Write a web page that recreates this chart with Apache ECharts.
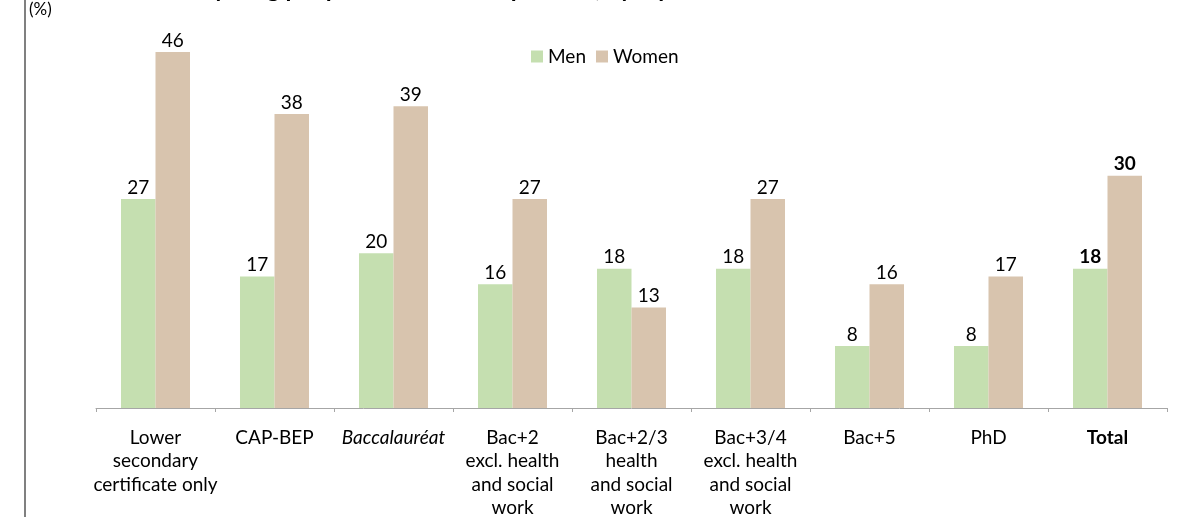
<!DOCTYPE html>
<html>
<head>
<meta charset="utf-8">
<script src="https://cdn.jsdelivr.net/npm/echarts@6/dist/echarts.min.js"></script>
<style>
  html, body { margin: 0; padding: 0; background: #fff; }
  #chart { width: 1181px; height: 517px; }
</style>
</head>
<body>
<div id="chart"></div>
<script>
// Qualification levels shown along the x axis
const categories = [
  'Lower\nsecondary\ncertificate only',
  'CAP-BEP',
  'Baccalauréat',
  'Bac+2\nexcl. health\nand social\nwork',
  'Bac+2/3\nhealth\nand social\nwork',
  'Bac+3/4\nexcl. health\nand social\nwork',
  'Bac+5',
  'PhD',
  'Total'
];
// Percentages by sex
const menValues = [27, 17, 20, 16, 18, 18, 8, 8, 18];
const womenValues = [46, 38, 39, 27, 13, 27, 16, 17, 30];

const titleText = 'Share of young people who are overqualified, by diploma and sex';
const unitText = '(%)';

const FONT = 'Lato, "Open Sans", sans-serif';
const FS = 19;
const MEN_COLOR = '#c5dfb0';
const WOMEN_COLOR = '#d8c4ae';

const chart = echarts.init(document.getElementById('chart'), null, { renderer: 'canvas' });

// Total column gets bold value labels
function valueLabel(idx) {
  return {
    show: true,
    position: 'top',
    distance: 2,
    color: '#000',
    fontFamily: FONT,
    fontSize: FS,
    fontWeight: categories[idx] === 'Total' ? 'bold' : 'normal'
  };
}

function buildData(values) {
  return values.map((v, i) => ({ value: v, label: valueLabel(i) }));
}

chart.setOption({
  animation: false,
  backgroundColor: '#fff',
  textStyle: { fontFamily: FONT },
  grid: { left: 96, right: 14, top: 21, bottom: 109, containLabel: false, outerBoundsMode: 'none' },
  legend: {
    data: ['Men', 'Women'],
    left: 526,
    top: 42,
    itemWidth: 12,
    itemHeight: 12,
    itemGap: 10,
    icon: 'rect',
    textStyle: { fontFamily: FONT, fontSize: FS, color: '#000' }
  },
  xAxis: {
    type: 'category',
    data: categories,
    axisLine: { show: true, lineStyle: { color: '#a6a6a6', width: 1 } },
    axisTick: { show: true, length: 4, inside: false, lineStyle: { color: '#a6a6a6' } },
    axisLabel: {
      interval: 0,
      margin: 18,
      color: '#000',
      fontFamily: FONT,
      fontSize: FS,
      lineHeight: 23.5,
      formatter: function (v) {
        if (v === 'Baccalauréat') return '{it|' + v + '}';
        if (v === 'Total') return '{b|' + v + '}';
        return v;
      },
      rich: {
        it: { fontStyle: 'italic', fontSize: FS, fontFamily: FONT, color: '#000', lineHeight: 23.5 },
        b: { fontWeight: 'bold', fontSize: FS, fontFamily: FONT, color: '#000', lineHeight: 23.5 }
      }
    }
  },
  yAxis: {
    type: 'value',
    min: 0,
    max: 50,
    show: false,
    splitLine: { show: false }
  },
  series: [
    {
      name: 'Men',
      type: 'bar',
      data: buildData(menValues),
      itemStyle: { color: MEN_COLOR },
      barGap: '0%',
      barCategoryGap: '42%'
    },
    {
      name: 'Women',
      type: 'bar',
      data: buildData(womenValues),
      itemStyle: { color: WOMEN_COLOR },
      barGap: '0%',
      barCategoryGap: '42%'
    }
  ],
  graphic: [
    {
      type: 'line',
      shape: { x1: 25, y1: 0, x2: 25, y2: 517 },
      style: { stroke: '#808080', lineWidth: 2 },
      silent: true
    },
    {
      type: 'text',
      left: 29,
      top: 1,
      style: { text: unitText, font: '17px ' + FONT, fill: '#000' },
      silent: true
    },
    {
      type: 'text',
      x: 120,
      y: -11,
      style: {
        text: titleText,
        font: 'bold 24px ' + FONT,
        fill: '#000',
        verticalAlign: 'middle'
      },
      silent: true
    }
  ]
});
</script>
</body>
</html>
